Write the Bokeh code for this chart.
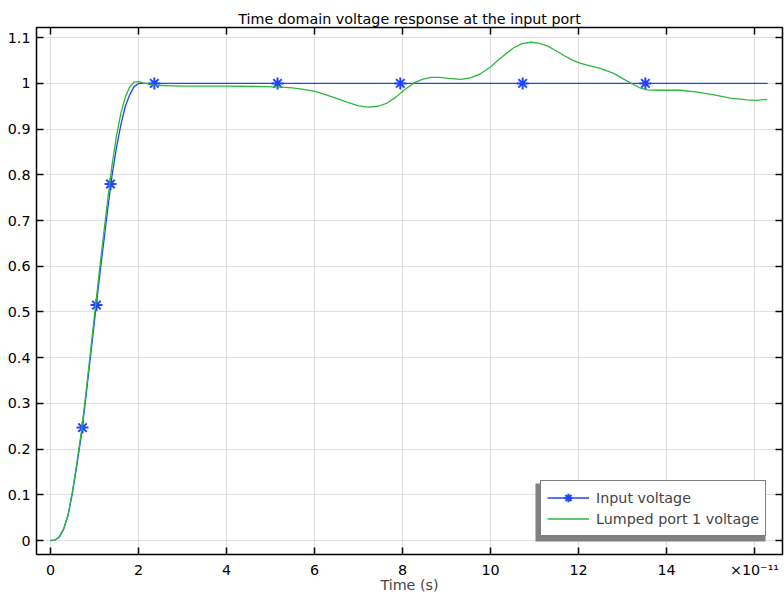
from bokeh.plotting import figure
from bokeh.models import (LinearAxis, FixedTicker, CustomJSTickFormatter, Range1d,
                          Legend, LegendItem, BoxAnnotation, Grid)
from bokeh.embed import file_html
from bokeh.resources import INLINE

# ---------------- data (time in units of 1e-11 s) ----------------
input_t = [0, 0.1, 0.2, 0.3, 0.4, 0.5, 0.6, 0.7, 0.8, 0.9, 1.0, 1.1, 1.2, 1.3,
           1.4, 1.5, 1.6, 1.7, 1.8, 1.9, 2.0, 16.3]
input_v = [0, 0.001, 0.008, 0.025, 0.055, 0.105, 0.165, 0.23, 0.31, 0.395, 0.48,
           0.565, 0.645, 0.725, 0.8, 0.86, 0.91, 0.95, 0.975, 0.993, 1.0, 1.0]

marker_t = [0.727, 1.045, 1.364, 2.36, 5.16, 7.95, 10.73, 13.52]
marker_v = [0.247, 0.515, 0.78, 1.0, 1.0, 1.0, 1.0, 1.0]

port_t = [0, 0.1, 0.2, 0.3, 0.4, 0.5, 0.6, 0.7, 0.8, 0.9, 1.0, 1.1, 1.2, 1.3,
          1.4, 1.5, 1.6, 1.7, 1.8, 1.9, 2.0, 2.1, 2.35, 3.0, 4.0, 4.92, 5.23,
          5.5, 5.75, 5.98, 6.2, 6.45, 6.74, 7.0, 7.23, 7.45, 7.65, 7.85, 8.03,
          8.26, 8.45, 8.64, 8.85, 9.05, 9.32, 9.55, 9.77, 10.0, 10.15, 10.35,
          10.53, 10.72, 10.91, 11.1, 11.29, 11.48, 11.67, 11.86, 12.05, 12.28,
          12.5, 12.8, 13.0, 13.18, 13.38, 13.56, 13.8, 14.0, 14.32, 14.7, 15.08,
          15.45, 15.83, 16.05, 16.29]
port_v = [0, 0.001, 0.008, 0.026, 0.057, 0.108, 0.17, 0.237, 0.318, 0.405, 0.493,
          0.58, 0.663, 0.745, 0.822, 0.885, 0.935, 0.97, 0.992, 1.003, 1.004,
          1.001, 0.996, 0.994, 0.994, 0.993, 0.992, 0.990, 0.987, 0.983, 0.977,
          0.969, 0.959, 0.951, 0.948, 0.950, 0.957, 0.970, 0.985, 1.001, 1.009,
          1.013, 1.013, 1.011, 1.009, 1.012, 1.021, 1.036, 1.049, 1.065, 1.078,
          1.087, 1.090, 1.088, 1.082, 1.072, 1.061, 1.051, 1.044, 1.038, 1.033,
          1.022, 1.011, 1.001, 0.991, 0.986, 0.985, 0.985, 0.985, 0.981, 0.975,
          0.968, 0.964, 0.963, 0.965]

x_ticks = [0, 2, 4, 6, 8, 10, 12, 14, 16]
x_tick_labels = ["0", "2", "4", "6", "8", "10", "12", "14", "×10⁻¹¹"]
y_ticks = [0, 0.1, 0.2, 0.3, 0.4, 0.5, 0.6, 0.7, 0.8, 0.9, 1.0, 1.1]
y_tick_labels = ["0", "0.1", "0.2", "0.3", "0.4", "0.5", "0.6", "0.7", "0.8",
                 "0.9", "1", "1.1"]

series_names = ["Input voltage", "Lumped port 1 voltage"]
title_text = "Time domain voltage response at the input port"
x_label = "Time (s)"

# ---------------- style ----------------
FONT = "DejaVu Sans"
FS = "14.3px"
BLUE = "#1f45ff"
GREEN = "#2db83d"
GRID = "#e0e0e0"

p = figure(width=784, height=595, output_backend="svg", toolbar_location=None,
           x_range=Range1d(-0.318, 16.636), y_range=Range1d(-0.0306, 1.1223),
           x_axis_location=None, y_axis_location=None,
           min_border_left=36, min_border_right=2, min_border_top=27,
           min_border_bottom=40)
p.outline_line_color = "black"
p.background_fill_color = "white"
p.border_fill_color = "white"

p.title.text = title_text
p.title.align = "center"
p.title.vertical_align = "middle"
p.title.text_font = FONT
p.title.text_font_size = FS
p.title.text_font_style = "normal"
p.title.text_color = "black"
p.title.standoff = 0
p.title.offset = 0


def fmt(tick_vals, tick_labels):
    return CustomJSTickFormatter(
        args=dict(tvals=tick_vals, tlabels=tick_labels),
        code="const i = tvals.findIndex(t => Math.abs(t - tick) < 1e-9);"
             "return i >= 0 ? tlabels[i] : '';")


def make_axis(tick_vals, tick_labels, show_labels):
    if show_labels:
        f = fmt(tick_vals, tick_labels)
    else:
        f = CustomJSTickFormatter(code="return '';")
    ax = LinearAxis(ticker=FixedTicker(ticks=tick_vals), formatter=f)
    ax.major_tick_in = 7
    ax.major_tick_out = 0
    ax.minor_tick_in = 0
    ax.minor_tick_out = 0
    ax.axis_line_color = "black"
    ax.axis_line_width = 1.5
    ax.major_tick_line_color = "black"
    ax.major_tick_line_width = 1.5
    ax.major_label_text_font = FONT
    ax.major_label_text_color = "black"
    ax.major_label_text_font_size = FS
    ax.major_label_standoff = 6 if show_labels else 0
    return ax


bottom = make_axis(x_ticks, x_tick_labels, True)
bottom.major_label_standoff = 7
bottom.axis_label = x_label
bottom.axis_label_text_font = FONT
bottom.axis_label_text_font_size = FS
bottom.axis_label_text_font_style = "normal"
bottom.axis_label_standoff = -4
p.add_layout(bottom, "below")
p.add_layout(make_axis(y_ticks, y_tick_labels, True), "left")
p.add_layout(make_axis(x_ticks, x_tick_labels, False), "above")
p.add_layout(make_axis(y_ticks, y_tick_labels, False), "right")

p.add_layout(Grid(dimension=0, ticker=FixedTicker(ticks=x_ticks),
                  grid_line_color=GRID, grid_line_width=1))
p.add_layout(Grid(dimension=1, ticker=FixedTicker(ticks=y_ticks),
                  grid_line_color=GRID, grid_line_width=1))

r_in = p.line(input_t, input_v, line_color=BLUE, line_width=1.3)
r_mk = p.scatter(marker_t, marker_v, marker="asterisk", size=12,
                 line_color=BLUE, line_width=2.0)
r_port = p.line(port_t, port_v, line_color=GREEN, line_width=1.3)

# legend shadow (frame-relative screen units)
shadow = BoxAnnotation(left=499, right=729, bottom=13, top=71,
                       left_units="screen", right_units="screen",
                       bottom_units="screen", top_units="screen",
                       fill_color="#808080", fill_alpha=1.0, line_color=None)
p.add_layout(shadow)

legend = Legend(items=[LegendItem(label=series_names[0], renderers=[r_in, r_mk]),
                       LegendItem(label=series_names[1], renderers=[r_port])],
                location=(504, 18), margin=0, padding=6, spacing=0,
                label_height=21, glyph_height=21, glyph_width=42,
                label_standoff=7, label_text_font=FONT,
                label_text_font_size=FS, border_line_color="black",
                border_line_width=1.5, background_fill_color="white",
                background_fill_alpha=1.0)
p.add_layout(legend)

open("out.html", "w").write(file_html(p, INLINE))
